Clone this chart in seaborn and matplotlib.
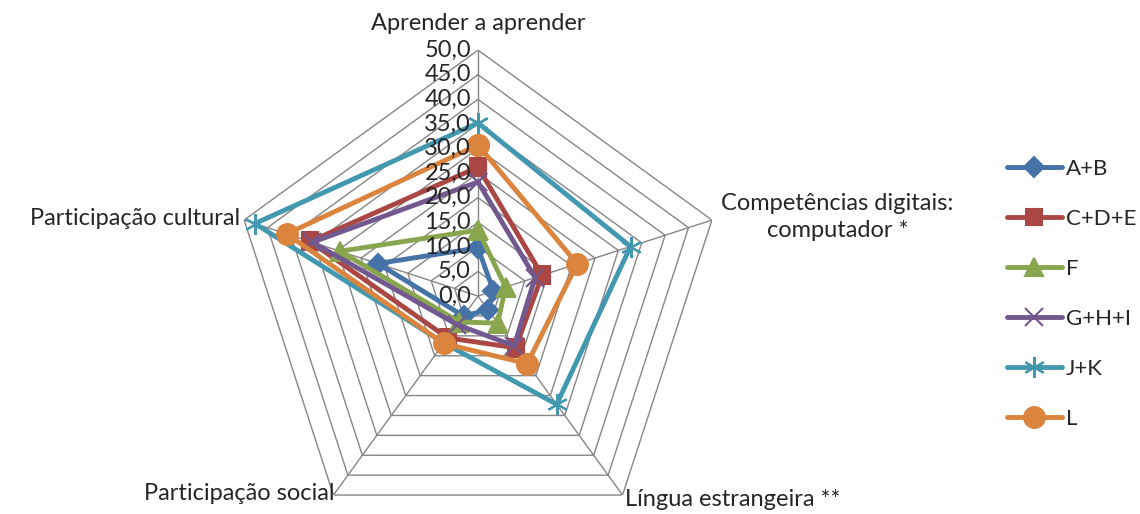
import numpy as np
import seaborn as sns
import matplotlib.pyplot as plt
from matplotlib.transforms import offset_copy

axes_labels = ['Aprender a aprender', 'Competências digitais:\ncomputador *',
               'Língua estrangeira **', 'Participação social', 'Participação cultural']
series_names = ['A+B', 'C+D+E', 'F', 'G+H+I', 'J+K', 'L']
ab = [9.8, 3.3, 3.5, 5.0, 21.4]
cde = [26.2, 13.7, 13.0, 10.5, 35.9]
f = [13.4, 5.9, 6.8, 6.5, 29.5]
ghi = [23.2, 12.2, 12.5, 7.2, 35.4]
jk = [35.2, 32.6, 27.2, 11.8, 47.7]
l = [30.7, 21.2, 17.0, 11.9, 40.9]
ticks = [0, 5, 10, 15, 20, 25, 30, 35, 40, 45, 50]

colors = ['#4572A7', '#AA4643', '#89A54E', '#71588F', '#4198AF', '#DB843D']
markers = ['D', 's', '^', 'x', (6, 2, 0), 'o']
msizes = [10, 12, 13, 13, 15, 15]

sns.set_style('white')
plt.rcParams['font.family'] = ['Lato', 'DejaVu Sans']
FS = 17

fig = plt.figure(figsize=(11.4, 5.14), dpi=100)
ax = fig.add_axes([0.2035, -0.0545, 0.4316, 0.957], projection='polar')
ax.set_theta_offset(np.pi / 2)
ax.set_theta_direction(-1)
ax.set_ylim(0, 50)
ax.axis('off')

n = len(axes_labels)
theta = np.linspace(0, 2 * np.pi, n, endpoint=False)
theta_c = np.append(theta, theta[0])

# pentagon grid
for t in ticks[1:]:
    ax.plot(theta_c, [t] * (n + 1), color='#868686', lw=1, zorder=1)
for a in theta:
    ax.plot([a, a], [0, 50], color='#868686', lw=1, zorder=1)

data = [ab, cde, f, ghi, jk, l]
for name, vals, c, m, ms in zip(series_names, data, colors, markers, msizes):
    sns.lineplot(x=theta_c, y=vals + [vals[0]], sort=False, estimator=None, ax=ax,
                 color=c, lw=3.5, marker=m, markersize=ms, markeredgecolor=c,
                 markeredgewidth=1.5, label=name, zorder=3)
if ax.get_legend():
    ax.get_legend().remove()

# radial tick labels
tr = offset_copy(ax.transData, fig=fig, x=-5, y=0, units='points')
for t in ticks:
    ax.text(0, t, f'{t:.1f}'.replace('.', ','), transform=tr, ha='right', va='center',
            fontsize=FS)

# category labels
ax.text(theta[0], 55.5, axes_labels[0], ha='center', va='center', fontsize=FS)
ax.text(theta[1], 52, axes_labels[1], ha='left', va='center', fontsize=FS,
        multialignment='center', linespacing=1.3)
ax.text(theta[2], 51, axes_labels[2], ha='left', va='center', fontsize=FS)
ax.text(theta[3], 49.5, axes_labels[3], ha='right', va='center', fontsize=FS)
ax.text(theta[4], 50.8, axes_labels[4], ha='right', va='center', fontsize=FS)

handles, labels = ax.get_legend_handles_labels()
fig.legend(handles, labels, loc='center left', bbox_to_anchor=(0.883, 0.428),
           frameon=False, fontsize=16, handlelength=2.5, labelspacing=1.35,
           handletextpad=0.15, borderaxespad=0, borderpad=0)

fig.savefig('out.png', dpi=100)
